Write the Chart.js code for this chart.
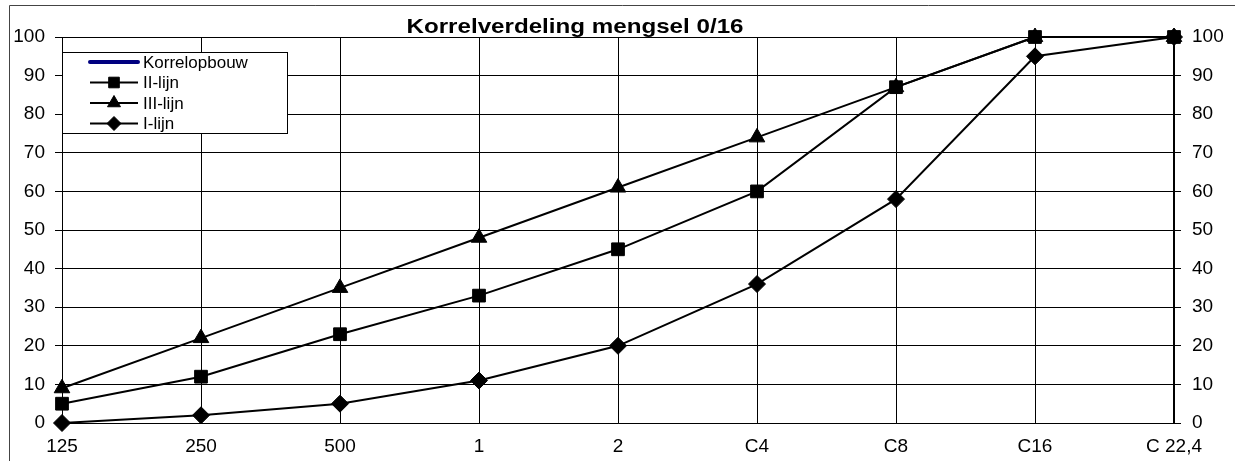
<!DOCTYPE html>
<html>
<head>
<meta charset="utf-8">
<title>Korrelverdeling mengsel 0/16</title>
<script src="https://cdn.jsdelivr.net/npm/chart.js@4"></script>
<style>
  html, body { margin: 0; padding: 0; background: #fff; }
  #wrap { width: 1235px; height: 461px; position: relative; }
</style>
</head>
<body>
<div id="wrap"><canvas id="chart" width="1235" height="461"></canvas></div>
<script>
// ─── Data ─────────────────────────────────────────────────
const zeefLabels   = ['125', '250', '500', '1', '2', 'C4', 'C8', 'C16', 'C 22,4'];
const korrelopbouw = [];
const lijnII       = [5, 12, 23, 33, 45, 60, 87, 100, 100];
const lijnIII      = [9, 22, 35, 48, 61, 74, 87, 100, 100];
const lijnI        = [0, 2, 5, 11, 20, 36, 58, 95, 100];
const chartTitle   = 'Korrelverdeling mengsel 0/16';

const FONT = "'Liberation Sans', Arial, sans-serif";

// ─── Plugins ──────────────────────────────────────────────
// white page + the thin frame at the top/left edge
const framePlugin = {
    id: 'frame',
    beforeDraw(chart) {
        const ctx = chart.ctx;
        ctx.save();
        ctx.fillStyle = '#fff';
        ctx.fillRect(0, 0, chart.width, chart.height);
        ctx.strokeStyle = '#444';
        ctx.lineWidth = 1;
        ctx.beginPath();
        ctx.moveTo(9.5, chart.height);
        ctx.lineTo(9.5, 5.5);
        ctx.lineTo(chart.width, 5.5);
        ctx.stroke();
        ctx.restore();
    }
};

// title is a bit wider than plain Arial bold, so stretch it to the measured width
const titlePlugin = {
    id: 'titleText',
    afterDraw(chart) {
        const ctx = chart.ctx;
        ctx.save();
        ctx.fillStyle = '#000';
        ctx.font = `bold 21px ${FONT}`;
        ctx.textAlign = 'center';
        ctx.textBaseline = 'alphabetic';
        const w = ctx.measureText(chartTitle).width;
        const sx = 337 / w;
        ctx.translate(575, 33);
        ctx.scale(sx, 1);
        ctx.fillText(chartTitle, 0, 0);
        ctx.restore();
    }
};

// boxed legend sitting inside the plot, top-left
const boxLegend = {
    id: 'boxLegend',
    afterDatasetsDraw(chart) {
        const ctx = chart.ctx;
        const left = chart.chartArea.left;
        ctx.save();
        ctx.fillStyle = '#fff';
        ctx.fillRect(left + 0.5, 52.5, 225, 81);
        ctx.strokeStyle = '#000';
        ctx.lineWidth = 1;
        ctx.strokeRect(left + 0.5, 52.5, 225, 81);

        ctx.font = `17px ${FONT}`;
        ctx.textBaseline = 'middle';
        ctx.textAlign = 'left';
        chart.data.datasets.forEach((ds, i) => {
            const y = 62 + i * 20.5;
            ctx.strokeStyle = ds.borderColor;
            ctx.lineWidth = ds.borderWidth;
            ctx.lineCap = i === 0 ? 'round' : 'butt';
            ctx.beginPath();
            ctx.moveTo(left + 28, y);
            ctx.lineTo(left + 76, y);
            ctx.stroke();
            if (ds.pointRadius > 0) {
                ctx.fillStyle = '#000';
                ctx.strokeStyle = '#000';
                ctx.lineWidth = 1;
                Chart.helpers.drawPoint(ctx, {
                    pointStyle: ds.pointStyle, radius: ds.pointRadius - 1.5,
                    rotation: 0, borderWidth: 1
                }, left + 52, y);
            }
            ctx.fillStyle = '#000';
            ctx.fillText(ds.label, left + 81, y + 1);
        });
        ctx.restore();
    }
};

// ─── Chart ────────────────────────────────────────────────
function serie(label, data, style, radius) {
    return {
        label, data,
        borderColor: '#000', backgroundColor: '#000',
        borderWidth: 2,
        pointStyle: style, pointRadius: radius, pointHoverRadius: radius,
        pointBackgroundColor: '#000', pointBorderColor: '#000', pointBorderWidth: 1,
        tension: 0, clip: false
    };
}

const ctx = document.getElementById('chart').getContext('2d');
new Chart(ctx, {
    type: 'line',
    data: {
        labels: zeefLabels,
        datasets: [
            { label: 'Korrelopbouw', data: korrelopbouw, borderColor: '#000080', backgroundColor: '#000080',
              borderWidth: 4, pointRadius: 0, clip: false },
            serie('II-lijn', lijnII, 'rect', 9),
            serie('III-lijn', lijnIII, 'triangle', 9),
            serie('I-lijn', lijnI, 'rectRot', 8.5),
        ]
    },
    options: {
        responsive: false,
        animation: false,
        devicePixelRatio: 1,
        layout: { padding: { top: 37, left: 0, right: 0, bottom: 0 } },
        plugins: {
            legend: { display: false },
            title: { display: false },
            tooltip: { enabled: false }
        },
        scales: {
            x: {
                type: 'category',
                offset: false,
                grid: { color: '#000', lineWidth: 1, drawTicks: false, tickLength: 0 },
                border: { color: '#000', width: 1 },
                ticks: { color: '#000', font: { family: FONT, size: 19 }, padding: 12, maxRotation: 0, autoSkip: false },
                afterFit(scale) { scale.height = 38; }
            },
            y: {
                position: 'left',
                min: 0, max: 100,
                grid: { color: '#000', lineWidth: 1, tickLength: 7 },
                border: { color: '#000', width: 1 },
                ticks: { stepSize: 10, color: '#000', font: { family: FONT, size: 19 }, padding: 10 },
                afterFit(scale) { scale.width = 62; }
            },
            y2: {
                position: 'right',
                min: 0, max: 100,
                grid: { drawOnChartArea: false, color: '#000', lineWidth: 1, tickLength: 7 },
                border: { color: '#000', width: 2 },
                ticks: { stepSize: 10, color: '#000', font: { family: FONT, size: 19 }, padding: 11 },
                afterFit(scale) { scale.width = 61; }
            }
        }
    },
    plugins: [framePlugin, boxLegend, titlePlugin]
});
</script>
</body>
</html>
